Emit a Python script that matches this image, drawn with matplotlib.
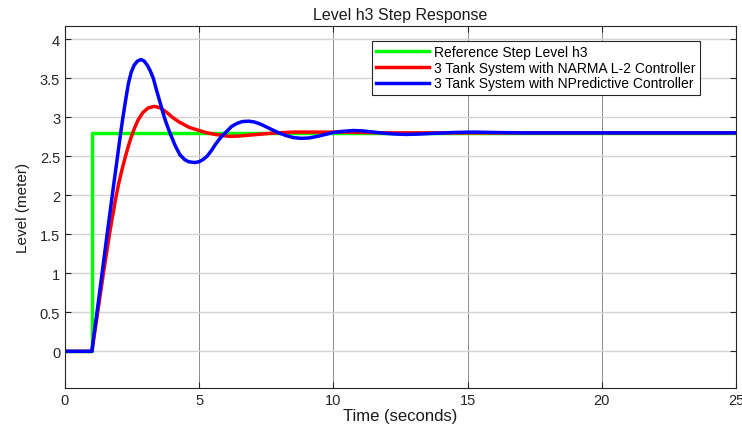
import matplotlib
matplotlib.use('Agg')
import matplotlib.pyplot as plt

plt.rcParams['font.family'] = ['Liberation Sans', 'DejaVu Sans']

# Reference step
t_ref = [0, 1.0, 1.0, 25]
h_ref = [0, 0, 2.8, 2.8]

# NARMA L-2 response
t_narma = [0, 1.0, 1.2, 1.43, 1.68, 1.9, 2.0, 2.11, 2.23, 2.35, 2.48, 2.6,
           2.73, 2.9, 3.1, 3.33, 3.55, 3.8, 4.0, 4.25, 4.63, 5.0, 5.3, 5.6,
           5.9, 6.16, 6.5, 7.0, 7.5, 7.9, 8.5, 9.5, 10.5, 12, 25]
h_narma = [0, 0, 0.46, 1.0, 1.55, 1.98, 2.15, 2.31, 2.47, 2.62, 2.76, 2.87,
           2.97, 3.06, 3.12, 3.14, 3.12, 3.06, 3.0, 2.94, 2.87, 2.83, 2.8, 2.78,
           2.765, 2.755, 2.76, 2.775, 2.79, 2.8, 2.81, 2.81, 2.81, 2.8, 2.8]

# NPredictive response
t_npred = [0, 1.0, 1.2, 1.4, 1.6, 1.8, 1.95, 2.05, 2.15, 2.25, 2.36, 2.47,
           2.58, 2.7, 2.83, 2.95, 3.06, 3.17, 3.29, 3.4, 3.5, 3.6, 3.7,
           3.8, 3.91, 4.1, 4.28, 4.45, 4.6, 4.84, 5.0, 5.15, 5.29, 5.45, 5.6,
           5.8, 6.03, 6.2, 6.4, 6.6, 6.84, 7.05, 7.3, 7.6, 7.9, 8.2, 8.5,
           8.8, 9.1, 9.4, 9.7, 10.0, 10.35, 10.73, 11.1, 11.5, 11.9, 12.3,
           12.7, 13.2, 13.8, 14.5, 15.2, 16, 17, 25]
h_npred = [0, 0, 0.52, 1.05, 1.58, 2.1, 2.48, 2.74, 2.98, 3.2, 3.43, 3.58,
           3.67, 3.72, 3.74, 3.72, 3.67, 3.6, 3.5, 3.36, 3.24, 3.12, 3.0,
           2.9, 2.8, 2.64, 2.52, 2.46, 2.43, 2.42, 2.43, 2.46, 2.5, 2.57, 2.65,
           2.74, 2.82, 2.88, 2.92, 2.945, 2.95, 2.94, 2.91, 2.86, 2.81, 2.77, 2.74,
           2.73, 2.735, 2.755, 2.78, 2.805, 2.82, 2.83, 2.825, 2.81, 2.795, 2.785,
           2.78, 2.785, 2.795, 2.805, 2.81, 2.805, 2.8, 2.8]

fig = plt.figure(figsize=(7.42, 4.27), dpi=100)
ax = fig.add_axes([0.0876, 0.089, 0.9043, 0.8478])

ax.plot(t_ref, h_ref, color=(0, 1, 0), lw=2.5, label='Reference Step Level h3')
ax.plot(t_narma, h_narma, color=(1, 0, 0), lw=2.5, label='3 Tank System with NARMA L-2 Controller')
ax.plot(t_npred, h_npred, color=(0, 0, 1), lw=2.5, label='3 Tank System with NPredictive Controller')

ax.set_xlim(0, 25)
ax.set_ylim(-0.47, 4.17)
ax.set_xticks([0, 5, 10, 15, 20, 25])
ax.set_yticks([0, 0.5, 1, 1.5, 2, 2.5, 3, 3.5, 4])
ax.set_yticklabels(['0', '0.5', '1', '1.5', '2', '2.5', '3', '3.5', '4'])

ax.xaxis.grid(True, color='#8c8c8c', lw=0.7)
ax.yaxis.grid(True, color='#d4d4d4', lw=1.0)
ax.set_axisbelow(True)

ax.tick_params(direction='in', top=True, right=True, length=4, width=0.8,
               labelsize=10.5, colors='#262626')
for s in ax.spines.values():
    s.set_color('#262626')
    s.set_linewidth(0.8)

ax.set_title('Level h3 Step Response', fontsize=11.5, color='#1a1a1a', pad=5)
ax.set_xlabel('Time (seconds)', fontsize=12, color='#1a1a1a', labelpad=1)
ax.set_ylabel('Level (meter)', fontsize=11, color='#1a1a1a', labelpad=7)

leg = ax.legend(loc='upper left', bbox_to_anchor=(0.4575, 0.9586), fontsize=10,
                fancybox=False, framealpha=1, edgecolor='#262626',
                handlelength=3.8, borderpad=0.3, labelspacing=0.12,
                handletextpad=0.4, borderaxespad=0)
leg.get_frame().set_linewidth(0.8)

fig.savefig('out.png', dpi=100)
